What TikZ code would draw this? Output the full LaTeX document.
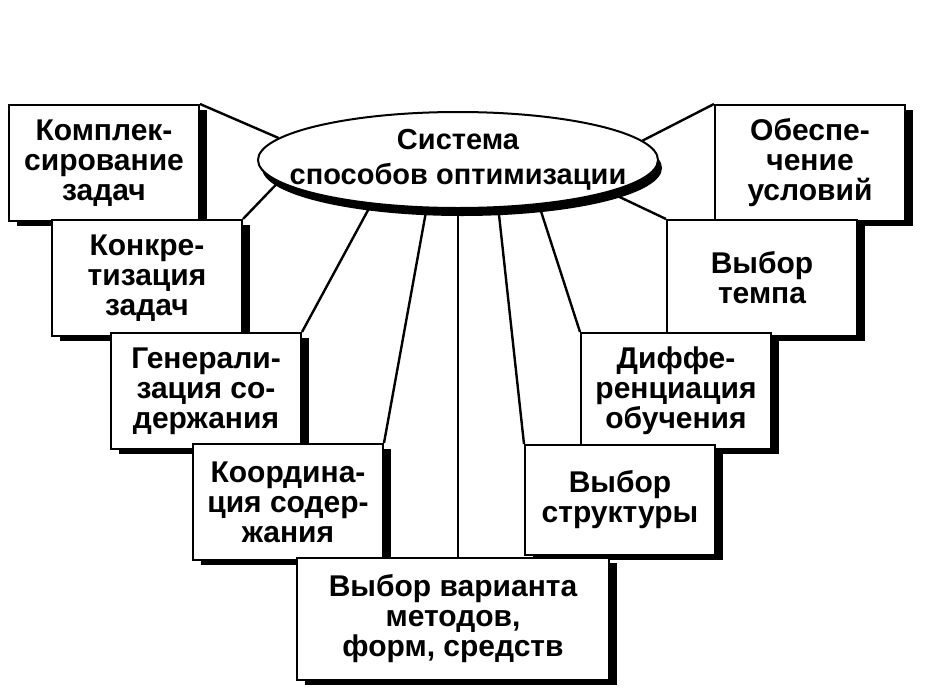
\documentclass[tikz,border=0pt]{standalone}
\usepackage{fontspec}
\setmainfont{Liberation Sans}
\usetikzlibrary{shapes.geometric,shadows,backgrounds}

\begin{document}
\begin{tikzpicture}[x=0.5pt, y=-0.5pt,
    main/.style = {draw, fill=white, line width=1pt, align=center, inner sep=0pt,
        minimum width=95pt, minimum height=58pt,
        font=\bfseries\fontsize{15}{15}\selectfont,
        drop shadow={shadow xshift=4pt, shadow yshift=-2.5pt, fill=black, opacity=1}},
    sys/.style = {ellipse, draw, fill=white, line width=1pt, align=center,
        inner xsep=-24pt, inner ysep=-3pt, minimum width=200pt, minimum height=48pt,
        font=\bfseries\fontsize{14.5}{17.5}\selectfont,
        drop shadow={shadow xshift=2pt, shadow yshift=-4pt, fill=black, opacity=1}},
    link/.style = {line width=1.2pt}]
    \useasboundingbox (0,0) rectangle (933,697);

    \node[sys] (0) at (458,160) {Система\\способов оптимизации};

    \node[main] (1) at (104,163) {Комплек-\\сирование\\задач};
    \node[main] (2) at (147,278) {Конкре-\\тизация\\задач};
    \node[main] (3) at (206,391) {Генерали-\\зация со-\\держания};
    \node[main] (4) at (288,502) {Координа-\\ция содер-\\жания};
    \node[main] (9) at (810,163) {Обеспе-\\чение\\условий};
    \node[main] (8) at (762,278) {Выбор\\темпа};
    \node[main] (7) at (676,391) {Диффе-\\ренциация\\обучения};
    \node[main, minimum height=55pt] (6) at (620,500) {Выбор\\структуры};
    \node[main, minimum width=156pt, minimum height=61pt] (5) at (453,619) {Выбор варианта\\методов,\\форм, средств};

    \begin{scope}[on background layer]
        \draw[link] (1.north east) to (0.173);
        \draw[link] (2.north east) to (0.187);
        \draw[link] (3.north east) to (0.207);
        \draw[link] (4.north east) to (0.237);
        \draw[link] (0.south) to (0.south |- 5.north);
        \draw[link] (6.north west) to (0.310);
        \draw[link] (7.north west) to (0.331);
        \draw[link] (8.north west) to (0.348);
        \draw[link] (9.north west) to (0.6);
    \end{scope}
\end{tikzpicture}
\end{document}
